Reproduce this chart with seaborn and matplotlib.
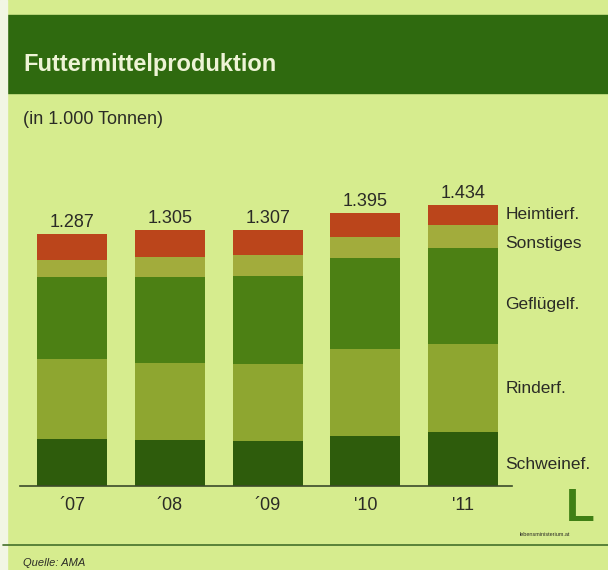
import matplotlib
matplotlib.use("Agg")
import matplotlib.pyplot as plt
import seaborn as sns
import numpy as np

years = ["´07", "´08", "´09", "'10", "'11"]
totals = ["1.287", "1.305", "1.307", "1.395", "1.434"]
categories = ["Schweinef.", "Rinderf.", "Geflügelf.", "Sonstiges", "Heimtierf."]
schwein = [241, 235, 230, 255, 273]
rinder = [405, 392, 394, 442, 453]
gefluegel = [420, 440, 447, 464, 487]
sonstiges = [87, 100, 106, 110, 116]
heimtier = [134, 138, 130, 124, 105]
colors = ["#2e5c0c", "#8ea630", "#4c8014", "#a2ac3c", "#bb451b"]

series = [schwein, rinder, gefluegel, sonstiges, heimtier]

bg = "#d6ec8e"
txt = "#2b2b26"

sns.set_theme(style="white")
plt.rcParams["font.family"] = ["Liberation Sans", "DejaVu Sans"]

W, H = 608, 570
fig = plt.figure(figsize=(W / 100, H / 100), dpi=100, facecolor=bg)

# header band and separators
fig.patches.append(plt.Rectangle((7 / W, 1 - 93 / H), 1, 78 / H, transform=fig.transFigure,
                                 color="#2f6a0f", zorder=0))
fig.patches.append(plt.Rectangle((0, 0), 7 / W, 1, transform=fig.transFigure,
                                 color="#f2f6e4", zorder=0))
fig.text(23 / W, 1 - 65 / H, "Futtermittelproduktion", fontsize=17, fontweight="bold",
         color="#eef4d6", va="center")
fig.text(23 / W, 1 - 120 / H, "(in 1.000 Tonnen)", fontsize=13, color=txt, va="center")
fig.lines.append(plt.Line2D([3 / W, 1], [1 - 545 / H] * 2, transform=fig.transFigure,
                            color="#44702a", lw=1.2))
fig.text(23 / W, 1 - 563 / H, "Quelle: AMA", fontsize=8, style="italic", color=txt, va="center")
fig.text(595 / W, 1 - 509 / H, "L", fontsize=34, fontweight="bold", color="#3f7f14",
         ha="right", va="center")
fig.text(545 / W, 1 - 535 / H, "lebensministerium.at", fontsize=4, color=txt, ha="center",
         va="center")

ax = fig.add_axes([20 / W, 1 - 486 / H, 492 / W, 306 / H])
ax.set_facecolor("none")

bottom = np.zeros(len(years))
for vals, col in zip(series, colors):
    sns.barplot(x=years, y=vals, bottom=bottom, color=col, saturation=1, width=0.716,
                ax=ax, linewidth=0)
    bottom = bottom + np.array(vals)

for i, lab in enumerate(totals):
    ax.text(i, bottom[i] + 15, lab, ha="center", va="bottom", fontsize=13, color=txt)

# segment labels next to the last bar
last = [s[-1] for s in series]
cum = np.cumsum([0] + last)
offs = [-5, 0, -9, -7, 1]
for k, name in enumerate(categories):
    mid = (cum[k] + cum[k + 1]) / 2 + offs[k] * 5
    ax.text(4.43, mid, name, ha="left", va="center", fontsize=12.5, color=txt, clip_on=False)

ax.set_xlim(-0.532, 4.5)
ax.set_ylim(0, 1561)
for s in ["top", "right", "left"]:
    ax.spines[s].set_visible(False)
ax.spines["bottom"].set_color("#3c4a2a")
ax.spines["bottom"].set_linewidth(1.2)
ax.set_yticks([])
ax.set_xlabel("")
ax.set_ylabel("")
ax.tick_params(axis="x", length=0, labelsize=13, labelcolor=txt, pad=8)

fig.savefig("out.png", dpi=100, facecolor=bg)
